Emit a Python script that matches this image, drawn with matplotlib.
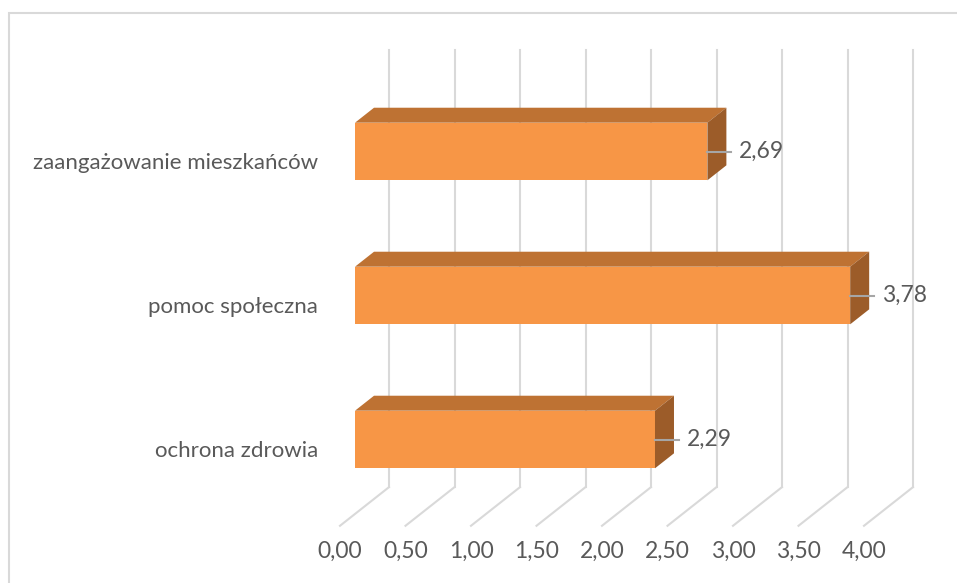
import matplotlib.pyplot as plt
from matplotlib.patches import Polygon, Rectangle

# =========================================================
# DATA
# =========================================================

categories = ["ochrona zdrowia", "pomoc społeczna", "zaangażowanie mieszkańców"]
values = [2.29, 3.78, 2.69]

ticks = [0.0, 0.5, 1.0, 1.5, 2.0, 2.5, 3.0, 3.5, 4.0]
tick_labels = ["0,00", "0,50", "1,00", "1,50", "2,00", "2,50", "3,00", "3,50", "4,00"]

# =========================================================
# STYLE
# =========================================================

FRONT = "#F79646"
TOP = "#BE7233"
SIDE = "#9C5C29"
GRID = "#D9D9D9"
TEXT = "#595959"
LEADER = "#A6A6A6"

plt.rcParams["font.family"] = ["Lato", "DejaVu Sans"]

# 3D look: one "depth step" shifts by (DX, DY) in data units
DX = 0.145
DY = 0.104
BAR_H = 0.4
WALL = 1.79     # back wall depth (in bar depths)
FRONT_FLOOR = -0.79
FLOOR_Y = -0.517
TOP_Y = 2.52

# =========================================================
# FIGURE
# =========================================================

fig = plt.figure(figsize=(9.57, 5.83), dpi=100)
ax = fig.add_axes([0, 0, 1, 1])
ax.set_xlim(-355 / 131, 602 / 131)
ax.set_ylim((439.5 - 583) / 144, 439.5 / 144)
ax.axis("off")

# outer chart frame (cropped screenshot)
fig.patches.append(Rectangle((9 / 957, -0.05), 1.2, 1 - 13 / 583 + 0.05,
                             transform=fig.transFigure, fill=False,
                             edgecolor=GRID, linewidth=1.5))

# -------------------------------------------------
# WALL + FLOOR GRID
# -------------------------------------------------

wall_x = WALL * DX
wall_y0 = FLOOR_Y + WALL * DY
wall_y1 = TOP_Y + WALL * DY
front_x = FRONT_FLOOR * DX
front_y = FLOOR_Y + FRONT_FLOOR * DY

for t, lab in zip(ticks, tick_labels):
    ax.plot([t + wall_x, t + wall_x], [wall_y0, wall_y1],
            color=GRID, linewidth=1.5, zorder=1)
    ax.plot([t + wall_x, t + front_x], [wall_y0, front_y],
            color=GRID, linewidth=1.5, zorder=1)
    ax.text(t + front_x, front_y - 0.18, lab, ha="center", va="center",
            fontsize=16.5, color=TEXT)

# -------------------------------------------------
# BARS
# -------------------------------------------------

ypos = list(range(len(categories)))

ax.barh(ypos, values, height=BAR_H, left=0, color=FRONT, zorder=3)

for y, v, name in zip(ypos, values, categories):
    y_lo = y - BAR_H / 2
    y_hi = y + BAR_H / 2

    top = Polygon([(0, y_hi), (v, y_hi), (v + DX, y_hi + DY), (DX, y_hi + DY)],
                  closed=True, facecolor=TOP, edgecolor="none", zorder=3)
    side = Polygon([(v, y_lo), (v, y_hi), (v + DX, y_hi + DY), (v + DX, y_lo + DY)],
                   closed=True, facecolor=SIDE, edgecolor="none", zorder=3)
    ax.add_patch(top)
    ax.add_patch(side)

    # data label with leader line
    ax.plot([v, v + 0.18], [y, y], color=LEADER, linewidth=1.5, zorder=4)
    ax.text(v + 0.24, y, f"{v:.2f}".replace(".", ","), ha="left", va="center",
            fontsize=16.5, color=TEXT, zorder=5)

    # category label
    ax.text(-0.28, y - 0.08, name, ha="right", va="center",
            fontsize=16, color=TEXT)

fig.savefig("out.png", dpi=100)
